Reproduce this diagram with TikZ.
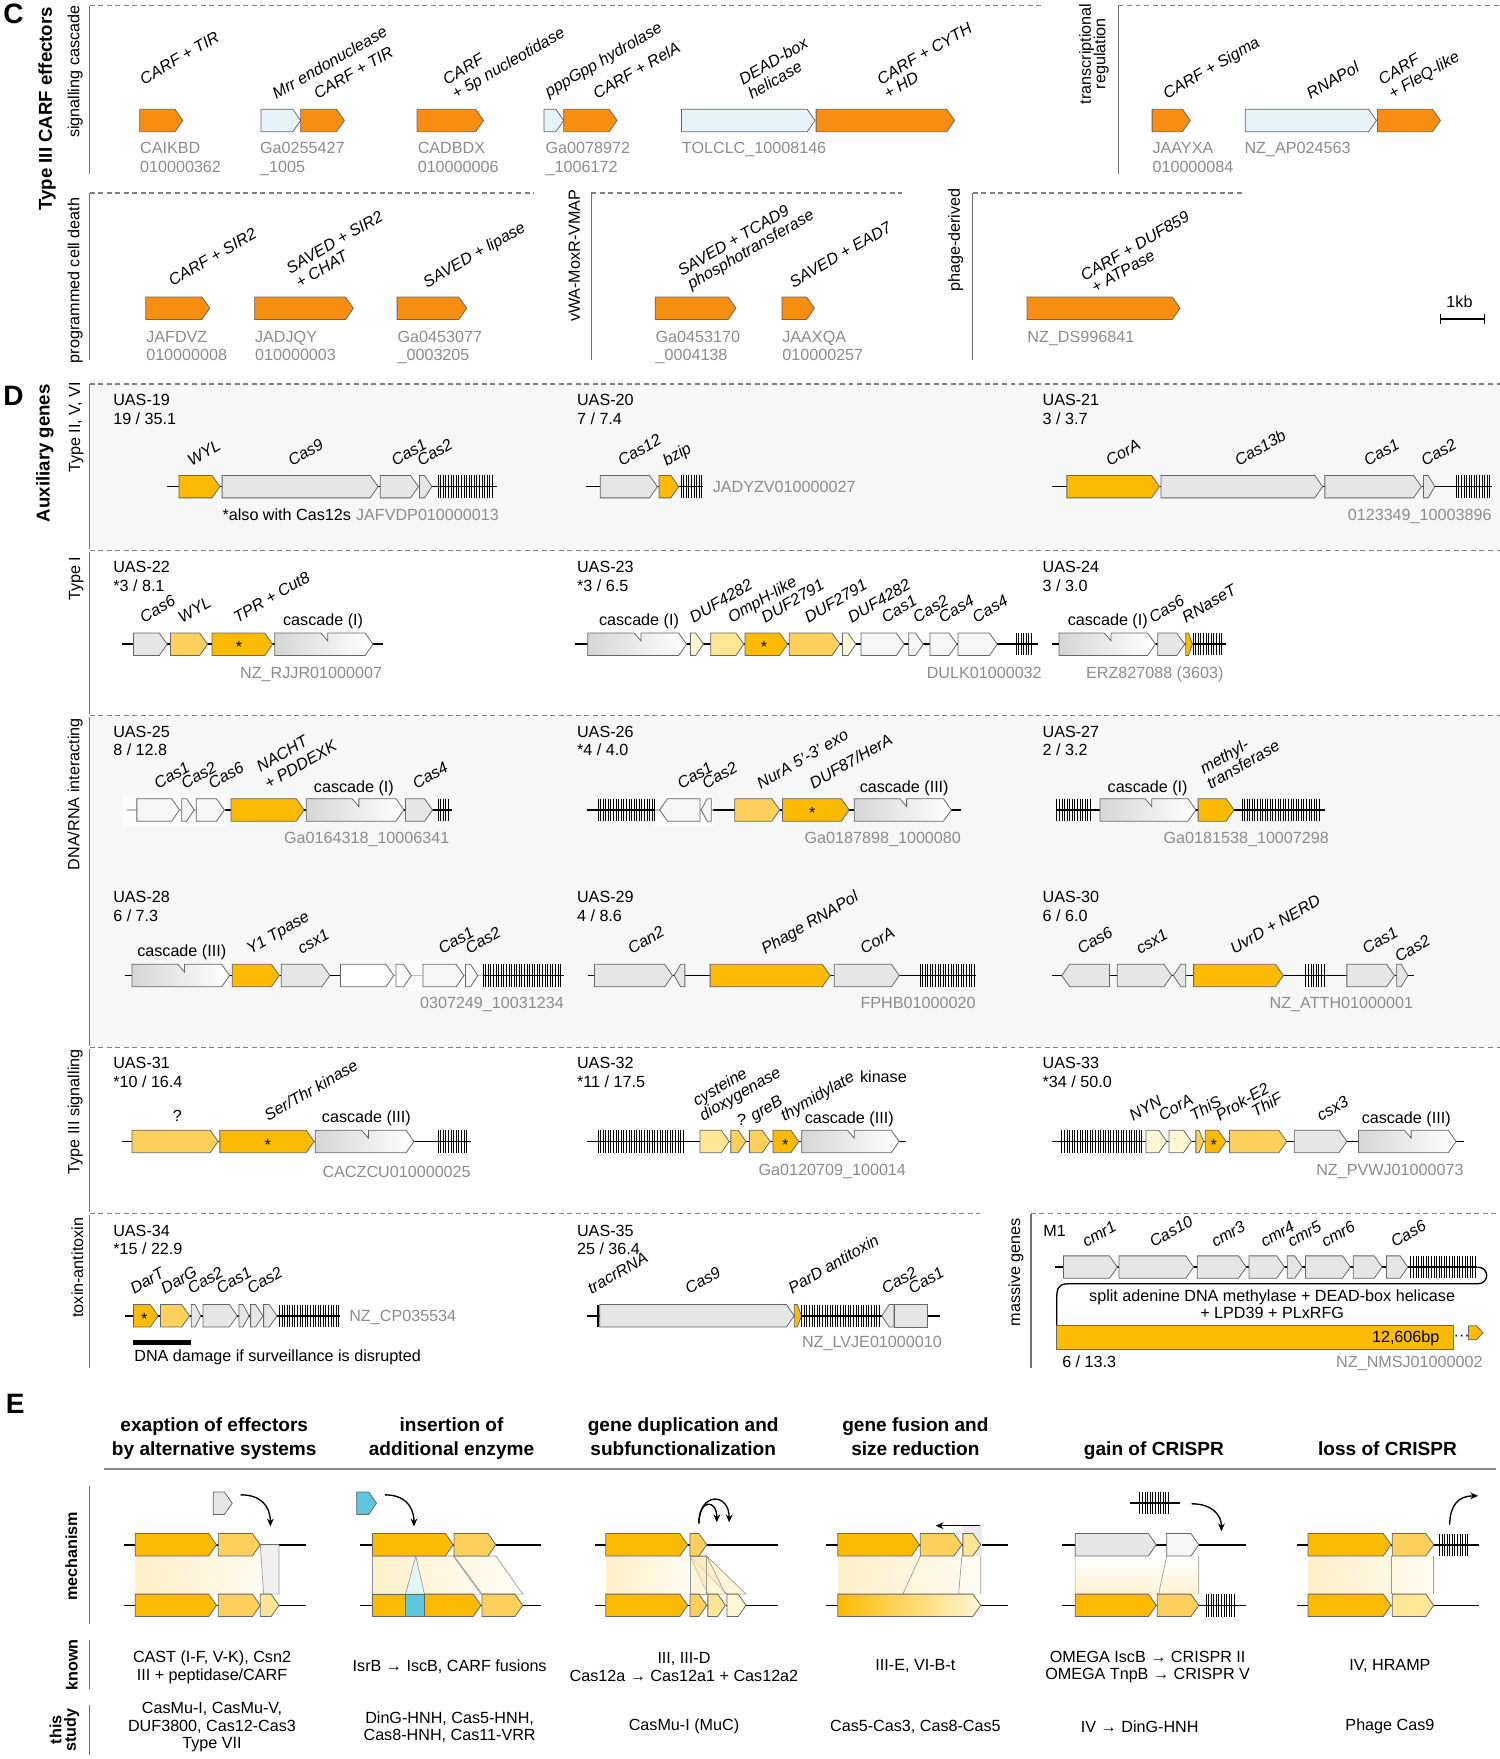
\documentclass[tikz,border=0pt]{standalone}
\usepackage{fontspec}
\setmainfont{Liberation Sans}
\setsansfont{Liberation Sans}
\usetikzlibrary{arrows.meta}

\definecolor{corange}{RGB}{247,142,17}
\definecolor{cblue}{RGB}{231,243,251}
\definecolor{camber}{RGB}{252,186,3}
\definecolor{clight}{RGB}{253,208,94}
\definecolor{cpale}{RGB}{255,230,150}
\definecolor{cpaler}{RGB}{255,246,212}
\definecolor{cgray}{RGB}{230,230,230}
\definecolor{cwhite}{RGB}{246,246,246}
\definecolor{ccyan}{RGB}{94,199,224}
\definecolor{idgray}{RGB}{140,140,140}
\definecolor{panelgray}{RGB}{247,247,247}

\newcommand\fs{\fontsize{7.2}{8}\selectfont}
\newcounter{tn}
\newcommand\tnode[4][]{\stepcounter{tn}\node[#1] (t\thetn) at (#2,#3) {#4};}
% genes: start, end, track y, fill
\newcommand\geneR[4]{%
  \pgfmathsetmacro\gtip{min(7,0.6*(#2-#1))}%
  \filldraw[gene,fill=#4] (#1,#3-10) -- ({#2-\gtip},#3-10) -- (#2,#3)
    -- ({#2-\gtip},#3+10) -- (#1,#3+10) -- cycle;}
\newcommand\geneL[4]{%
  \pgfmathsetmacro\gtip{min(7,0.6*(#2-#1))}%
  \filldraw[gene,fill=#4] (#2,#3-10) -- ({#1+\gtip},#3-10) -- (#1,#3)
    -- ({#1+\gtip},#3+10) -- (#2,#3+10) -- cycle;}
\newcommand\geneB[4]{\filldraw[gene,fill=#4] (#1,#3-10) rectangle (#2,#3+10);}
\newcommand\cascade[3]{%
  \pgfmathsetmacro\gmid{#1+0.47*(#2-#1)}%
  \shadedraw[gene,left color=black!16,right color=white] (#1,#3-10) -- (\gmid,#3-10)
    -- ({\gmid+6},#3-3) -- ({\gmid+6},#3-10) -- ({#2-7},#3-10) -- (#2,#3)
    -- ({#2-7},#3+10) -- (#1,#3+10) -- cycle;}
\newcommand\crarray[3]{%
  \pgfmathtruncatemacro\gnum{(#2-#1)/2.3}%
  \foreach \k in {0,...,\gnum}
    \draw[spacer] ({#1+\k*2.3},#3-10) -- ({#1+\k*2.3},#3+10);}
\newcommand\uas[4]{\tnode[plaintxt]{#1}{#2}{#3}\tnode[plaintxt]{#1}{#2+16.5}{#4}}

\begin{document}
\begin{tikzpicture}[x=0.5pt, y=-0.5pt,
    gene/.style={draw=black!60, line width=0.35pt},
    track/.style={line width=0.7pt},
    spacer/.style={line width=0.3pt},
    glab/.style={rotate=30, anchor=base west, inner sep=0pt, font=\fs\itshape},
    hlab/.style={anchor=base, inner sep=0pt, font=\fs},
    idw/.style={anchor=base west, inner sep=0pt, text=idgray, font=\fs},
    ide/.style={anchor=base east, inner sep=0pt, text=idgray, font=\fs},
    plaintxt/.style={anchor=base west, inner sep=0pt, font=\fs},
    sidelab/.style={rotate=90, inner sep=0pt, font=\fs},
    bigside/.style={rotate=90, inner sep=0pt, font=\bfseries\fontsize{8.3}{9}\selectfont},
    panelltr/.style={inner sep=0pt, font=\bfseries\fontsize{12.5}{13}\selectfont},
    sepline/.style={draw=black!50, line width=0.5pt, dash pattern=on 2.2pt off 1.6pt},
    framel/.style={draw=black!55, line width=0.5pt},
    headtxt/.style={anchor=base, inner sep=0pt, font=\bfseries\fontsize{8.5}{9}\selectfont},
    notetxt/.style={align=center, inner sep=0pt, font=\fontsize{7.2}{7.85}\selectfont},
    astr/.style={inner sep=0pt, font=\fs},
    linkl/.style={draw=black!40, line width=0.3pt},
    arr/.style={-{Stealth[length=3.5pt,width=3pt]}, line width=0.6pt},
]
\fill[white] (0,0) rectangle (1337,1568);
\useasboundingbox (0,0) rectangle (1337,1568);

% ---------------- C: CARF effectors ----------------
\tnode[panelltr]{12}{12}{C}
\tnode[bigside]{42}{97}{Type III CARF effectors}
\tnode[sidelab]{67}{64}{signalling cascade}
\tnode[sidelab]{968.7}{48}{transcriptional}
\tnode[sidelab]{981.6}{48}{regulation}
\tnode[sidelab]{67}{250}{programmed cell death}
\tnode[sidelab]{512}{228}{vWA-MoxR-VMAP}
\tnode[sidelab]{852}{214}{phage-derived}

\draw[sepline] (80,5) -- (930,5);   \draw[framel] (80,5) -- (80,155);
\draw[sepline] (997,5) -- (1337,5); \draw[framel] (997,5) -- (997,155);
\draw[sepline] (80,172) -- (476,172);   \draw[framel] (80,172) -- (80,321);
\draw[sepline] (527,172) -- (804,172);  \draw[framel] (527,172) -- (527,321);
\draw[sepline] (867,172) -- (1109,172); \draw[framel] (867,172) -- (867,321);

\foreach \a/\b/\c in {124.5/163/corange, 232.6/268/cblue, 268/307/corange,
    371.8/431/corange, 485/502.5/cblue, 502.5/550/corange, 607.5/726.5/cblue,
    727.5/851/corange, 1027/1061/corange, 1110/1227/cblue, 1228/1284/corange}
  {\geneR{\a}{\b}{107.4}{\c}}
\foreach \a/\b in {130/187, 227/315, 354/416, 584/656, 697/726, 915.5/1052}
  {\geneR{\a}{\b}{274.8}{corange}}

\foreach \lx/\ly/\lt in {128/76/CARF + TIR, 246/89/Mrr endonuclease, 283/89/CARF + TIR,
    398/76/CARF, 406/89/+ 5p nucleotidase, 489/87/pppGpp hydrolase, 532/89/CARF + RelA,
    662/76/DEAD-box, 670/89/helicase, 785/76/CARF + CYTH, 791/89/+ HD,
    1040/89/CARF + Sigma, 1168/89/RNAPol, 1232/76/CARF, 1241/89/+ FleQ-like,
    153.5/255.5/CARF + SIR2, 258.6/244.5/SAVED + SIR2, 267/257/+ CHAT,
    380.5/257/SAVED + lipase, 607.5/246.6/SAVED + TCAD9, 616/258.5/phosphotransferase,
    707/257/SAVED + EAD7, 966.5/251/CARF + DUF859, 976/262/+ ATPase}
  {\tnode[glab]{\lx}{\ly}{\lt}}

\foreach \ix/\ia/\ib in {124.5/CAIKBD/010000362, 231.5/Ga0255427/\_1005,
    372/CADBDX/010000006, 486/Ga0078972/\_1006172, 607.5/TOLCLC\_10008146/,
    1027/JAAYXA/010000084, 1109/NZ\_AP024563/}
  {\tnode[idw]{\ix}{137}{\ia}\tnode[idw]{\ix}{153.5}{\ib}}
\foreach \ix/\ia/\ib in {130/JAFDVZ/010000008, 227/JADJQY/010000003,
    354/Ga0453077/\_0003205, 584/Ga0453170/\_0004138, 697/JAAXQA/010000257,
    915.5/NZ\_DS996841/}
  {\tnode[idw]{\ix}{305}{\ia}\tnode[idw]{\ix}{321.4}{\ib}}

% scale bar
\tnode[hlab]{1301}{274}{1kb}
\draw[line width=0.6pt] (1284,284.4) -- (1323,284.4);
\draw[line width=0.6pt] (1284,280) -- (1284,289) (1323,280) -- (1323,289);

% ---------------- D: auxiliary genes ----------------
\fill[panelgray] (80,342.3) rectangle (1337,490.8);
\fill[panelgray] (80,637.9) rectangle (1337,933.4);
\tnode[panelltr]{12}{353}{D}
\tnode[bigside]{40}{404}{Auxiliary genes}
\tnode[sidelab]{68}{381}{Type II, V, VI}
\tnode[sidelab]{68}{516}{Type I}
\tnode[sidelab]{67}{708}{DNA/RNA interacting}
\tnode[sidelab]{67}{991}{Type III signalling}
\tnode[sidelab]{69}{1130}{toxin-antitoxin}
\tnode[sidelab]{905.6}{1134}{massive genes}

\foreach \yy in {342.3, 490.8, 637.9, 933.4}
  {\draw[sepline] (80,\yy) -- (1337,\yy);}
\draw[sepline] (80,1082) -- (874,1082);
\draw[sepline] (919,1082) -- (1337,1082);
\draw[framel] (80,342.3) -- (80,489) (80,492) -- (80,636.5) (80,639.5) -- (80,932)
  (80,935) -- (80,1080.5) (80,1083.5) -- (80,1219) (919,1082) -- (919,1219);

\uas{100.6}{361.5}{UAS-19}{19 / 35.1} \uas{514}{361.5}{UAS-20}{7 / 7.4} \uas{929}{361.5}{UAS-21}{3 / 3.7}
\uas{100.6}{510.7}{UAS-22}{*3 / 8.1}  \uas{514}{510.7}{UAS-23}{*3 / 6.5} \uas{929}{510.7}{UAS-24}{3 / 3.0}
\uas{100.6}{657}{UAS-25}{8 / 12.8}    \uas{514}{657}{UAS-26}{*4 / 4.0}   \uas{929}{657}{UAS-27}{2 / 3.2}
\uas{100.6}{804.8}{UAS-28}{6 / 7.3}   \uas{514}{804.8}{UAS-29}{4 / 8.6}  \uas{929}{804.8}{UAS-30}{6 / 6.0}
\uas{100.6}{952.7}{UAS-31}{*10 / 16.4} \uas{514}{952.7}{UAS-32}{*11 / 17.5} \uas{929}{952.7}{UAS-33}{*34 / 50.0}
\uas{100.6}{1101.8}{UAS-34}{*15 / 22.9} \uas{514}{1101.8}{UAS-35}{25 / 36.4}
\tnode[plaintxt]{929.6}{1101.8}{M1}

% row UAS-19..21
\draw[track] (149,433.8) -- (443,433.8) (522,433.8) -- (627,433.8) (938,433.8) -- (1330,433.8);
\geneR{159.5}{196}{433.8}{camber} \geneR{198}{337}{433.8}{cgray}
\geneR{339}{373}{433.8}{cgray} \geneR{374}{385}{433.8}{cgray} \crarray{390.5}{439}{433.8}
\geneR{535}{586}{433.8}{cgray} \geneR{587.5}{605}{433.8}{camber} \crarray{607}{627}{433.8}
\geneR{951}{1033.5}{433.8}{camber} \geneR{1035}{1179}{433.8}{cgray}
\geneR{1181}{1267}{433.8}{cgray} \geneR{1269}{1279}{433.8}{cgray} \crarray{1298}{1330}{433.8}

% row UAS-22..24
\draw[track] (109,574.3) -- (341,574.3) (513,574.3) -- (925,574.3) (938,574.3) -- (1093,574.3);
\geneR{119}{149}{574.3}{cgray} \geneR{152}{185}{574.3}{clight}
\geneR{189}{243}{574.3}{camber} \tnode[astr]{213}{577}{*} \cascade{245}{332.5}{574.3}
\cascade{524}{612}{574.3} \geneR{615.6}{627}{574.3}{cpaler} \geneR{633.5}{663}{574.3}{cpale}
\geneR{664}{702}{574.3}{camber} \tnode[astr]{681}{577}{*}
\geneR{703.5}{748.7}{574.3}{clight} \geneR{751}{763}{574.3}{cpaler}
\geneR{767.5}{806}{574.3}{cwhite} \geneR{810}{823}{574.3}{cwhite}
\geneR{829}{853}{574.3}{cwhite} \geneR{854}{889}{574.3}{cwhite} \crarray{905.6}{921}{574.3}
\cascade{944}{1030}{574.3} \geneR{1032}{1056}{574.3}{cgray}
\geneR{1057}{1063}{574.3}{camber} \crarray{1063.5}{1091}{574.3}

% row UAS-25..27
\draw[track] (113,722) -- (402.5,722) (523,722) -- (857,722) (942,722) -- (1181,722);
\fill[white, opacity=0.75] (109,708.5) rectangle (201,736.8) (584,708.5) rectangle (636,736.8);
\geneR{122}{160}{722}{cwhite} \geneR{162}{173}{722}{cwhite} \geneR{175}{200}{722}{cwhite}
\geneR{206}{271}{722}{camber} \cascade{273}{360}{722} \geneR{361.5}{385.5}{722}{cgray}
\crarray{390.5}{401}{722}
\crarray{533}{584}{722} \geneL{588}{624}{722}{cwhite} \geneL{625}{634}{722}{cwhite}
\geneR{655}{695}{722}{clight} \geneR{697.5}{757}{722}{camber} \tnode[astr]{724}{725}{*}
\cascade{761.5}{848}{722}
\crarray{942}{974}{722} \cascade{980.6}{1066}{722} \geneR{1068}{1100}{722}{camber}
\crarray{1107}{1178}{722}

% row UAS-28..30
\draw[track] (111,869.6) -- (503,869.6) (524,869.6) -- (870,869.6) (938,869.6) -- (1260,869.6);
\cascade{117.7}{204.6}{869.6} \geneR{207}{249}{869.6}{camber} \geneR{250.7}{294}{869.6}{cgray}
\fill[white, opacity=0.75] (302.7,855.6) rectangle (430.6,883.8);
\geneR{303.6}{351}{869.6}{white} \geneR{353}{366.7}{869.6}{white}
\geneR{377}{413.6}{869.6}{cwhite} \geneR{415}{426}{869.6}{cwhite} \crarray{430.6}{501}{869.6}
\geneR{530}{599.5}{869.6}{cgray} \geneL{601}{610.5}{869.6}{cgray}
\geneR{633}{740}{869.6}{camber} \geneR{743.6}{801.6}{869.6}{cgray} \crarray{820}{870}{869.6}
\geneL{946.5}{989}{869.6}{cgray} \geneR{996}{1044.5}{869.6}{cgray} \geneL{1046}{1057}{869.6}{cgray}
\geneR{1064}{1144}{869.6}{camber} \crarray{1164}{1181}{869.6}
\geneR{1200.6}{1243}{869.6}{cgray} \geneR{1245}{1255}{869.6}{cgray}

% row UAS-31..33
\draw[track] (109,1017.5) -- (420,1017.5) (523,1017.5) -- (808,1017.5) (938,1017.5) -- (1305,1017.5);
\geneR{117.7}{194.4}{1017.5}{clight} \geneR{196}{280}{1017.5}{camber} \tnode[astr]{238.8}{1020.5}{*}
\cascade{281}{369}{1017.5} \crarray{390.5}{418}{1017.5}
\crarray{533}{610}{1017.5} \geneR{624}{650}{1017.5}{cpale} \geneR{651.5}{665}{1017.5}{clight}
\geneR{668}{686.5}{1017.5}{clight} \geneR{689}{712}{1017.5}{camber} \tnode[astr]{700}{1020.5}{*}
\cascade{714.6}{801.5}{1017.5}
\crarray{946.5}{1019}{1017.5} \geneR{1021.5}{1040}{1017.5}{cpaler} \geneR{1042}{1062}{1017.5}{cpaler}
\geneR{1066}{1073}{1017.5}{clight} \geneR{1074.4}{1093}{1017.5}{camber} \tnode[astr]{1082}{1020.5}{*}
\geneR{1096}{1147}{1017.5}{clight} \geneR{1153.7}{1200.6}{1017.5}{cgray} \cascade{1211}{1298}{1017.5}

% row UAS-34, UAS-35
\draw[track] (111,1172.9) -- (303,1172.9) (523,1172.9) -- (837.5,1172.9);
\geneR{119}{141}{1172.9}{camber} \tnode[astr]{128.5}{1176}{*} \geneR{143}{169}{1172.9}{clight}
\geneR{170.5}{179}{1172.9}{cgray} \geneR{181}{211.5}{1172.9}{cgray} \geneR{213}{222}{1172.9}{cgray}
\geneR{223.4}{234.5}{1172.9}{cgray} \geneR{235}{247}{1172.9}{cgray} \crarray{249}{303}{1172.9}
\draw[line width=2.2pt] (119,1196.6) -- (170.5,1196.6);
\draw[line width=0.6pt] (533,1162.9) -- (533,1182.9);
\geneR{534.7}{708}{1172.9}{cgray} \geneR{708}{714.6}{1172.9}{camber} \crarray{714.6}{784.5}{1172.9}
\geneL{786}{797}{1172.9}{cgray} \geneB{797}{827}{1172.9}{cgray}

% M1
\draw[track] (940,1129.5) -- (1317,1129.5);
\foreach \a/\b in {948/996, 997.4/1064, 1067.3/1111, 1113.4/1145, 1147.5/1161,
    1163.7/1203.7, 1206.3/1232, 1236/1255}
  {\geneR{\a}{\b}{1129.5}{cgray}}
\crarray{1257.5}{1317}{1129.5}
\draw[line width=0.6pt] (1317,1129.5) .. controls (1328,1129.5) and (1328,1144.4) .. (1317,1144.4)
  -- (952,1144.4) .. controls (942,1144.4) and (942,1150) .. (942,1160) -- (942,1182);
\tnode[notetxt]{1134}{1156}{split adenine DNA methylase + DEAD-box helicase}
\tnode[notetxt]{1134}{1170.5}{+ LPD39 + PLxRFG}
\filldraw[gene, fill=camber] (942,1181.8) rectangle (1296,1202.6);
\tnode[anchor=base east, inner sep=0pt, font=\fs]{1283.5}{1197}{12,606bp}
\tnode[anchor=base, inner sep=0pt, font=\fs]{1303}{1195}{···}
\filldraw[gene, fill=camber] (1309,1181.8) -- (1316,1181.8) -- (1322,1188) -- (1316,1194.3) -- (1309,1194.3) -- cycle;
\tnode[plaintxt]{946.5}{1218.6}{6 / 13.3}
\tnode[ide]{1322}{1218.6}{NZ\_NMSJ01000002}

% gene labels
\foreach \lx/\lt in {170.5/WYL, 260/Cas9, 352/Cas1, 375/Cas2, 554/Cas12, 594/bzip,
    989/CorA, 1104/Cas13b, 1219/Cas1, 1270/Cas2}
  {\tnode[glab]{\lx}{416}{\lt}}
\foreach \lx/\lt in {128/Cas6, 162/WYL, 211.5/TPR + Cut8, 618/DUF4282, 652/OmpH-like,
    682/DUF2791, 720.5/DUF2791, 759/DUF4282, 789/Cas1, 817/Cas2, 840/Cas4, 870/Cas4,
    1027.5/Cas6, 1057/RNaseT}
  {\tnode[glab]{\lx}{555.6}{\lt}}
\foreach \lx/\lt in {140.7/Cas1, 164.6/Cas2, 189/Cas6, 239/+ PDDEXK, 371/Cas4, 607/Cas1,
    629/Cas2, 678/NurA 5'-3' exo, 725/{DUF87/HerA}, 1079/transferase}
  {\tnode[glab]{\lx}{704}{\lt}}
\tnode[glab]{232}{689}{NACHT}
\tnode[glab]{1073}{690.7}{methyl-}
\foreach \lx/\lt in {223/Y1 Tpase, 268.6/csx1, 394/Cas1, 418/Cas2, 563/Can2,
    682/Phage RNAPol, 770/CorA, 963.5/Cas6, 1016/csx1, 1100/UvrD + NERD, 1217.7/Cas1}
  {\tnode[glab]{\lx}{851}{\lt}}
\tnode[glab]{1246.6}{858.6}{Cas2}
\foreach \lx/\lt in {238.8/{Ser/Thr kinase}, 626.7/dioxygenase, 672/greB, 699/thymidylate,
    1010/NYN, 1036/CorA, 1064/ThiS, 1087/Prok-E2, 1177/csx3}
  {\tnode[glab]{\lx}{999.7}{\lt}}
\tnode[glab]{620.8}{986.3}{cysteine}
\tnode[glab]{1119}{996.7}{ThiF}
\foreach \lx/\lt in {119.4/DarT, 146.7/DarG, 170.5/Cas2, 196/Cas1, 223.4/Cas2,
    527/tracrRNA, 614/Cas9, 706/ParD antitoxin, 789/Cas2, 813/Cas1}
  {\tnode[glab]{\lx}{1154}{\lt}}
\foreach \lx/\lt in {968/cmr1, 1028/Cas10, 1083/cmr3, 1127/cmr4, 1151/cmr5, 1181/cmr6, 1243/Cas6}
  {\tnode[glab]{\lx}{1112.6}{\lt}}

% horizontal labels
\foreach \lx/\ly/\lt in {288/557.6/cascade (I), 569.6/557.6/cascade (I), 987.5/557.6/cascade (I),
    315.5/706/cascade (I), 806/706/cascade (III), 1023/706/cascade (I), 162/853/cascade (III),
    158/1000/?, 326.6/1000.8/cascade (III), 661/1003.2/?, 787.5/964.6/kinase,
    757/1001.7/cascade (III), 1253.5/1001.7/cascade (III)}
  {\tnode[hlab]{\lx}{\ly}{\lt}}

% accession numbers
\tnode[plaintxt]{198}{464}{*also with Cas12s}
\tnode[idw]{317}{464}{JAFVDP010000013}
\tnode[idw]{635}{438.8}{JADYZV010000027}
\tnode[ide]{1330}{464}{0123349\_10003896}
\tnode[ide]{341}{604.5}{NZ\_RJJR01000007}
\tnode[ide]{929}{604.5}{DULK01000032}
\tnode[ide]{1091}{604.5}{ERZ827088 (3603)}
\tnode[ide]{401}{751.6}{Ga0164318\_10006341}
\tnode[ide]{857}{751.6}{Ga0187898\_1000080}
\tnode[ide]{1185}{751.6}{Ga0181538\_10007298}
\tnode[ide]{503}{899}{0307249\_10031234}
\tnode[ide]{870}{899}{FPHB01000020}
\tnode[ide]{1260}{899}{NZ\_ATTH01000001}
\tnode[ide]{420}{1050}{CACZCU010000025}
\tnode[ide]{808}{1047.8}{Ga0120709\_100014}
\tnode[ide]{1305}{1047.8}{NZ\_PVWJ01000073}
\tnode[idw]{311}{1178}{NZ\_CP035534}
\tnode[ide]{840}{1201.6}{NZ\_LVJE01000010}
\tnode[plaintxt]{119.4}{1213.5}{DNA damage if surveillance is disrupted}

% ---------------- E: evolutionary routes ----------------
\tnode[panelltr]{13.6}{1251}{E}
\foreach \hx/\ha/\hb in {191/exaption of effectors/by alternative systems,
    402.5/insertion of/additional enzyme, 609/gene duplication and/subfunctionalization,
    816/gene fusion and/size reduction, 1028.6//gain of CRISPR, 1236.8//loss of CRISPR}
  {\tnode[headtxt]{\hx}{1276}{\ha}\tnode[headtxt]{\hx}{1297}{\hb}}
\draw[draw=black!45, line width=0.8pt] (93,1309.6) -- (1333.5,1309.6);
\tnode[bigside, font=\bfseries\fontsize{7.2}{8}\selectfont]{63.7}{1387.5}{mechanism}
\tnode[bigside, font=\bfseries\fontsize{7.2}{8}\selectfont]{64}{1484}{known}
\tnode[bigside, font=\bfseries\fontsize{7.2}{8}\selectfont]{49.5}{1542}{this}
\tnode[bigside, font=\bfseries\fontsize{7.2}{8}\selectfont]{64}{1542}{study}
\draw[framel] (80,1325) -- (80,1448) (80,1462) -- (80,1506) (80,1520) -- (80,1564);

% tracks
\foreach \a/\b in {110.5/273, 320.6/482, 530/693.5, 736.3/898.2, 946.6/1110.6, 1156/1318.8}
  {\draw[track] (\a,1377) -- (\b,1377) (\a,1431) -- (\b,1431);}

% exaption
\shade[left color=camber!22, right color=camber!6] (120.5,1387) rectangle (232,1421);
\filldraw[fill=black!6, draw=black!40, line width=0.3pt] (232,1377) -- (248.7,1377) -- (248.7,1421) -- (235,1421) -- cycle;
\geneR{120.5}{193}{1377}{camber} \geneR{194.6}{232}{1377}{clight}
\geneR{120.5}{193}{1431}{camber} \geneR{194.6}{232}{1431}{clight} \geneR{232}{248.7}{1431}{cpale}
\geneR{190}{207}{1340}{cgray}
\draw[arr] (214.6,1332.5) .. controls (232,1332.5) and (241,1342) .. (241,1360.7);

% insertion
\shadedraw[left color=camber!22, right color=camber!6, linkl] (332,1387) -- (404,1387) -- (428.8,1421) -- (332,1421) -- cycle;
\shadedraw[left color=camber!12, right color=camber!3, linkl] (404.7,1387) -- (442,1387) -- (466,1421) -- (429.7,1421) -- cycle;
\filldraw[fill=ccyan!18, linkl] (370.6,1387) -- (378.4,1421) -- (361.5,1421) -- cycle;
\geneR{332}{404}{1377}{camber} \geneR{404.7}{442}{1377}{clight}
\geneB{332}{361.5}{1431}{camber} \geneB{361.5}{378.4}{1431}{ccyan}
\geneR{378.4}{428.8}{1431}{camber} \geneR{429.7}{466}{1431}{clight}
\geneR{318}{335.6}{1340}{ccyan}
\draw[arr] (343,1332.5) .. controls (360,1332.5) and (369,1342) .. (369,1360.7);

% duplication
\shade[left color=camber!22, right color=camber!6] (540,1387) rectangle (613,1421);
\filldraw[fill=camber!30, fill opacity=0.5, linkl] (615,1387) -- (630,1387) -- (665,1421) -- (648,1421) -- cycle;
\filldraw[fill=camber!30, fill opacity=0.5, linkl] (615,1387) -- (630,1387) -- (646.7,1421) -- (631,1421) -- cycle;
\filldraw[fill=camber!30, fill opacity=0.5, linkl] (615,1387) -- (630,1387) -- (630,1421) -- (615,1421) -- cycle;
\geneR{540}{613}{1377}{camber} \geneR{615}{630}{1377}{clight}
\geneR{540}{613}{1431}{camber} \geneR{615}{630}{1431}{clight}
\geneR{631}{646.7}{1431}{cpale} \geneR{648}{665}{1431}{cpaler}
\draw[arr] (623,1358) .. controls (623,1336) and (639,1336) .. (639,1357);
\draw[arr] (623,1358) .. controls (623,1330) and (650,1330) .. (650,1357);

% fusion
\shade[left color=camber!22, right color=camber!5] (746.8,1387) rectangle (874.2,1421);
\draw[linkl] (820.4,1387) -- (804.8,1421) (857.4,1387) -- (854.5,1421) (874.2,1387) -- (874.2,1421);
\fill[black!8] (858,1360.7) rectangle (875.5,1387);
\geneR{746.8}{819.6}{1377}{camber} \geneR{820.4}{857.4}{1377}{clight} \geneR{858.3}{874.2}{1377}{cpale}
\shadedraw[gene, left color=camber, right color=cpaler] (746.8,1421) -- (867.2,1421) -- (874.2,1431) -- (867.2,1441) -- (746.8,1441) -- cycle;
\draw[arr] (874,1360) -- (834,1360);

% gain of CRISPR
\shade[top color=white, bottom color=camber!18] (958.4,1387) rectangle (1068.6,1421);
\draw[linkl] (958.4,1387) -- (958.4,1421) (1040,1387) -- (1032.8,1421) (1068.6,1387) -- (1068.6,1421);
\geneR{958.4}{1030.7}{1377}{cgray} \geneR{1040}{1068.6}{1377}{cwhite}
\geneR{958.4}{1030.7}{1431}{camber} \geneR{1031.6}{1068.6}{1431}{clight}
\crarray{1074.9}{1102.2}{1431}
\draw[track] (1007.6,1340) -- (1051.7,1340);
\crarray{1016}{1042.5}{1340}
\draw[arr] (1062.3,1340.5) .. controls (1080,1340.5) and (1088.8,1350) .. (1088.8,1365);

% loss of CRISPR
\shade[left color=camber!22, right color=camber!5] (1166,1387) rectangle (1278,1421);
\draw[linkl] (1240,1387) -- (1240,1421) (1278,1387) -- (1278,1421);
\geneR{1166}{1240}{1377}{camber} \geneR{1241}{1278}{1377}{clight}
\crarray{1283}{1310.4}{1377}
\geneR{1166}{1240}{1431}{camber} \geneR{1241}{1278}{1431}{cpale}
\draw[arr] (1292.3,1359) .. controls (1292.3,1342) and (1300,1333.4) .. (1317.6,1333.4);

% known / this study
\tnode[notetxt]{189}{1486}{CAST (I-F, V-K), Csn2\\III + peptidase/CARF}
\tnode[notetxt]{400.8}{1485.5}{IsrB → IscB, CARF fusions}
\tnode[notetxt]{609.7}{1486}{III, III-D\\Cas12a → Cas12a1 + Cas12a2}
\tnode[notetxt]{816}{1485.5}{III-E, VI-B-t}
\tnode[notetxt]{1023}{1486}{OMEGA IscB → CRISPR II\\OMEGA TnpB → CRISPR V}
\tnode[notetxt]{1239}{1485.5}{IV, HRAMP}
\tnode[notetxt]{189}{1539.5}{CasMu-I, CasMu-V,\\DUF3800, Cas12-Cas3\\Type VII}
\tnode[notetxt]{400.8}{1539.5}{DinG-HNH, Cas5-HNH,\\Cas8-HNH, Cas11-VRR}
\tnode[notetxt]{609.7}{1539}{CasMu-I (MuC)}
\tnode[notetxt]{816}{1539}{Cas5-Cas3, Cas8-Cas5}
\tnode[notetxt]{1016}{1539}{IV → DinG-HNH}
\tnode[notetxt]{1239}{1539}{Phage Cas9}
\end{tikzpicture}
\end{document}
